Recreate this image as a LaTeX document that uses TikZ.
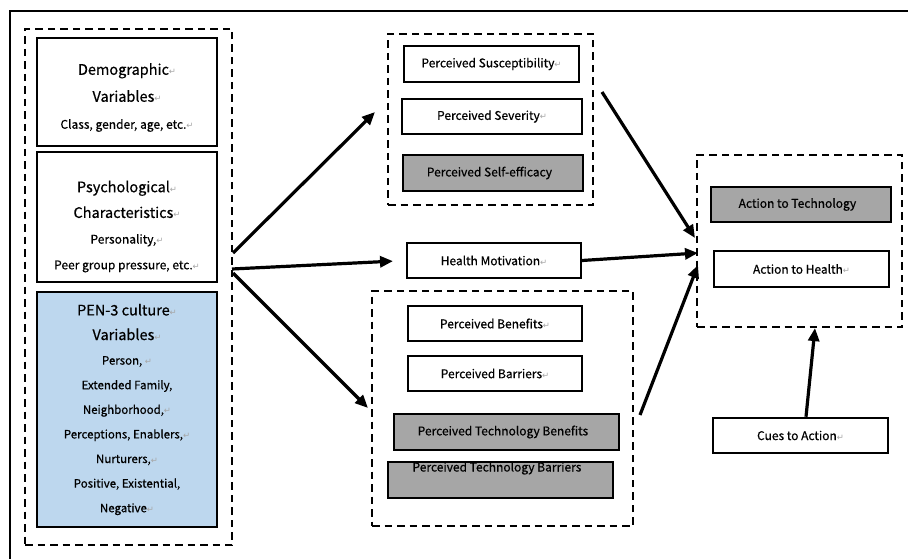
\documentclass[tikz,border=0pt]{standalone}
\usepackage{fontspec}
\setmainfont{Noto Sans CJK SC}[UprightFeatures={FakeBold=0.6}]
\newfontfamily\markfont{DejaVu Sans}
\usetikzlibrary{positioning,arrows.meta}
\definecolor{boxgray}{RGB}{166,166,166}
\definecolor{penblue}{RGB}{189,215,238}
\newcommand{\pmk}{{\markfont\fontsize{8.5}{8.5}\selectfont\color{black!35}↵}}
\newcommand{\hdfont}{\fontsize{14.5}{27}\selectfont}
\tikzset{
  var/.style={draw, line width=2pt, minimum width=180pt, inner sep=0pt},
  vartxt/.style={inner sep=0pt, align=center, font=\fontsize{12}{27}\selectfont},
  hbm/.style={draw, line width=2pt, fill=white, minimum height=35.5pt, inner sep=0pt, font=\fontsize{12}{14}\selectfont},
  grayhbm/.style={hbm, fill=boxgray},
  grp/.style={draw, line width=2.2pt, dash pattern=on 7.5pt off 5pt, inner sep=0pt},
  flow/.style={-{Triangle[length=13pt,width=11pt]}, line width=3.2pt},
}
\begin{document}
\begin{tikzpicture}[x=1pt,y=-1pt]
\useasboundingbox (0,0) rectangle (908,559);
\draw[line width=2pt] (908,11) -- (10,11) -- (10,559);
% left column
\node[grp, minimum width=207pt, minimum height=516pt] (leftgrp) at (128.5,287) {};
\node[var, minimum height=108pt] (demo) at (127,92) {};
\node[vartxt] (demotxt) at ([yshift=-5.5pt]demo.center)
  {{\hdfont Demographic\pmk}\\{\hdfont Variables\pmk}\\Class, gender, age, etc.\pmk};
\node[var, minimum height=130pt] (psych) at (127,217) {};
\node[vartxt, font=\fontsize{12}{25.7}\selectfont] (psychtxt) at ([yshift=-9.5pt]psych.center)
  {{\hdfont\fontsize{14.5}{25.7}\selectfont Psychological\pmk}\\{\hdfont\fontsize{14.5}{25.7}\selectfont Characteristics\pmk}\\Personality,\pmk\\Peer group pressure, etc.\pmk};
\node[var, minimum height=235pt, fill=penblue] (pen) at (127,409.5) {};
\node[vartxt, font=\fontsize{11.5}{24.6}\selectfont] (pentxt) at (pen.center)
  {{\hdfont\fontsize{14.5}{24.6}\selectfont PEN-3 culture\pmk}\\{\hdfont\fontsize{14.5}{24.6}\selectfont Variables\pmk}\\Person, \pmk\\Extended Family,\\Neighborhood,\pmk\\Perceptions, Enablers,\pmk\\Nurturers,\pmk\\Positive, Existential,\\Negative\pmk};
% middle column
\node[grp, minimum width=205pt, minimum height=171pt] (topgrp) at (490.5,119.5) {};
\node[hbm, minimum width=175pt] (sus) at (491.5,64) {Perceived Susceptibility\pmk};
\node[hbm, minimum width=180pt] (sev) at (492,116.5) {Perceived Severity\pmk};
\node[grayhbm, minimum width=180pt] (self) at (493,173) {Perceived Self-efficacy\pmk};
\node[hbm, minimum width=174pt] (hm) at (494,260.5) {Health Motivation\pmk};
\node[grp, minimum width=261pt, minimum height=235pt] (botgrp) at (502.5,408.5) {};
\node[hbm, minimum width=174pt] (pben) at (495,323.5) {Perceived Benefits\pmk};
\node[hbm, minimum width=174pt] (pbar) at (495,373.5) {Perceived Barriers\pmk};
\node[grayhbm, minimum width=225pt] (ptben) at (506.5,432) {Perceived Technology Benefits\pmk};
\node[grayhbm, minimum width=225pt] (ptbar) at (500.5,480) {};
\node[font=\fontsize{12}{14}\selectfont, inner sep=0pt] (ptbartxt) at ([yshift=-7pt]ptbar.north) {Perceived Technology Barriers\pmk};
% right column
\node[grp, minimum width=205pt, minimum height=172pt] (actgrp) at (799.5,241) {};
\node[grayhbm, minimum width=180pt] (acttech) at (801,204.5) {Action to Technology\pmk};
\node[hbm, minimum width=175pt] (acthealth) at (801.5,269) {Action to Health\pmk};
\node[hbm, minimum width=175pt] (cues) at (800.5,435.5) {Cues to Action\pmk};
% arrow ends
\coordinate (o1) at (233,253);
\coordinate (o2) at (232,269);
\coordinate (o3) at (233,273);
\coordinate (t1) at (375,112);
\coordinate (t3) at (368,408);
\coordinate (s4) at (602,92);
\coordinate (t4) at (695,238);
\coordinate (t5) at (698,253);
\coordinate (s6) at (640,415);
\coordinate (t6) at (698,265);
\draw[flow] (o1) -- (t1);
\draw[flow, shorten >=13pt] (o2) -- (hm.west);
\draw[flow] (o3) -- (t3);
\draw[flow] (s4) -- (t4);
\draw[flow] (hm.east) -- (t5);
\draw[flow] (s6) -- (t6);
\draw[flow] ([xshift=5.5pt]cues.north) -- ([xshift=15.5pt]actgrp.south);
\end{tikzpicture}
\end{document}
